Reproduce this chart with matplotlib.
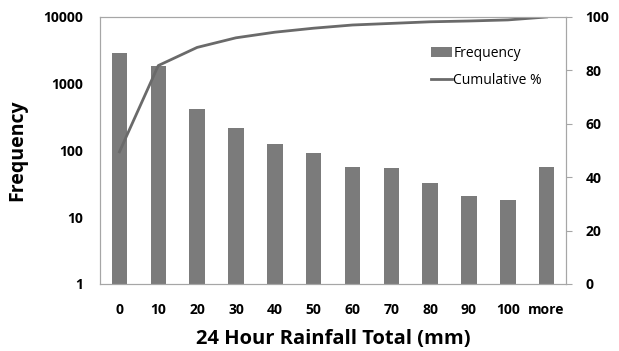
import matplotlib
matplotlib.use("Agg")
import matplotlib.pyplot as plt
import numpy as np

# rainfall bins and counts
bins = ["0", "10", "20", "30", "40", "50", "60", "70", "80", "90", "100", "more"]
frequency = [2920, 1870, 420, 215, 125, 91, 57, 54, 33, 21, 18, 57]
cumulative_pct = [49.5, 81.8, 88.6, 92.2, 94.3, 95.8, 97.0, 97.6, 98.2, 98.5, 98.9, 100.0]

plt.rcParams["font.family"] = ["Open Sans", "DejaVu Sans"]

fig = plt.figure(figsize=(6.19, 3.51), dpi=100)
ax = fig.add_axes([0.1616, 0.1909, 0.7528, 0.7607])

x = np.arange(len(bins))
bars = ax.bar(x, frequency, width=0.4, color="#7b7b7b", label="Frequency", zorder=2)
ax.set_yscale("log")
ax.set_ylim(1, 10000)
ax.set_xlim(-0.5, len(bins) - 0.5)
ax.set_yticks([1, 10, 100, 1000, 10000])
ax.set_yticklabels(["1", "10", "100", "1000", "10000"])
ax.minorticks_off()
ax.set_xticks(x)
ax.set_xticklabels(bins)
ax.tick_params(axis="y", length=0, labelsize=10, pad=12)
ax.tick_params(axis="x", length=0, labelsize=10, pad=14)
for lab in ax.get_xticklabels() + ax.get_yticklabels():
    lab.set_fontweight("bold")
for sp in ax.spines.values():
    sp.set_color("#a6a6a6")
ax.set_ylabel("Frequency", fontsize=14, fontweight="bold", labelpad=12)
ax.set_xlabel("24 Hour Rainfall Total (mm)", fontsize=14.5, fontweight="bold", labelpad=8)

# cumulative percentage on the secondary axis
ax2 = ax.twinx()
line, = ax2.plot(x, cumulative_pct, color="#6a6a6a", lw=2, label="Cumulative %")
ax2.set_ylim(0, 100)
ax2.set_yticks([0, 20, 40, 60, 80, 100])
ax2.tick_params(axis="y", length=4, color="#a6a6a6", labelsize=10, pad=10)
for lab in ax2.get_yticklabels():
    lab.set_fontweight("bold")
for sp in ax2.spines.values():
    sp.set_color("#a6a6a6")

ax2.legend([bars, line], ["Frequency", "Cumulative %"], loc="upper right",
           bbox_to_anchor=(0.975, 0.94), frameon=False, fontsize=10,
           handlelength=1.5, handletextpad=0.1, labelspacing=0.9)

fig.savefig("out.png", dpi=100)
